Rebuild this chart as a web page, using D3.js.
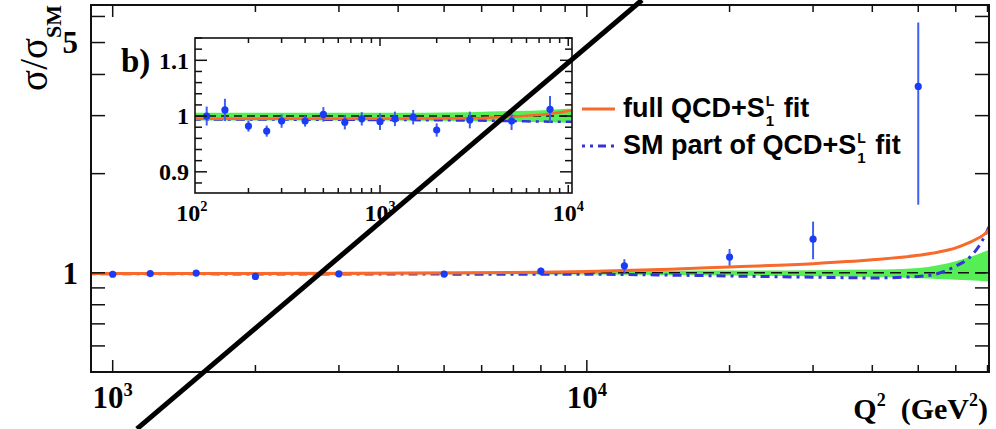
<!DOCTYPE html>
<html>
<head>
<meta charset="utf-8">
<script src="https://cdn.jsdelivr.net/npm/d3@7"></script>
<style>
body { margin: 0; background: #fff; }
</style>
</head>
<body>
<div id="chart"></div>
<script>
// measured points (H1 bins), ratio to SM and its error
const q2Points = [120, 150, 200, 250, 300, 400, 500, 650, 800, 1000, 1200, 1500, 2000, 3000, 5000, 8000, 12000, 20000, 30000, 50000];
const ratio    = [1.0, 1.011, 0.982, 0.973, 0.991, 0.991, 1.003, 0.989, 0.995, 0.99, 0.995, 0.998, 0.975, 0.993, 0.991, 1.012, 1.05, 1.116, 1.265, 3.68];
const ratioErr = [0.017, 0.02, 0.01, 0.01, 0.012, 0.01, 0.013, 0.013, 0.012, 0.015, 0.013, 0.013, 0.012, 0.015, 0.016, 0.024, 0.05, 0.065, 0.165, 2.07];

// fit curves and SM uncertainty band
const q2Fit     = [100, 1000, 3000, 5000, 8000, 10000, 15000, 20000, 30000, 40000, 50000, 55000, 60000, 64000, 67000, 69000, 70500];
const fullFit   = [0.995, 0.995, 0.996, 0.999, 1.004, 1.009, 1.025, 1.042, 1.066, 1.095, 1.13, 1.155, 1.19, 1.235, 1.275, 1.31, 1.35];
const smFit     = [0.994, 0.993, 0.992, 0.991, 0.99, 0.99, 0.984, 0.978, 0.97, 0.965, 0.975, 0.995, 1.048, 1.11, 1.2, 1.29, 1.38];
const bandLow   = [0.992, 0.992, 0.991, 0.99, 0.989, 0.988, 0.985, 0.982, 0.977, 0.972, 0.963, 0.958, 0.953, 0.949, 0.946, 0.943, 0.941];
const bandHigh  = [1.006, 1.006, 1.007, 1.009, 1.011, 1.013, 1.015, 1.016, 1.019, 1.023, 1.035, 1.055, 1.085, 1.115, 1.14, 1.16, 1.175];

// tick labels
const mainYLabels  = [1, 5];
const insetYLabels = [0.9, 1, 1.1];
const mainXLabels  = [3, 4];      // 10^n
const insetXLabels = [2, 3, 4];   // 10^n

// the slash drawn across the figure, in data units of the main frame
const slashQ2 = [1125, 13070];
const slashR  = [0.336, 6.73];

const color_full = "#f8692c";
const color_sm = "#3434d8";
const color_pt = "#1a3cf7";
const color_err = "#3f5ff0";
const color_band = "#55ee55";
const serif = "'Liberation Serif', 'Times New Roman', serif";
const sans = "'Liberation Sans', Arial, sans-serif";

const width = 996, height = 429;

const svg = d3.select("#chart")
   .append("svg")
   .attr("width", width)
   .attr("height", height);

const x = d3.scaleLog().domain([900, 70500]).range([91, 989]);
const y = d3.scaleLog().domain([0.5, 6.5]).range([372, 5]);
const xi = d3.scaleLog().domain([104, 10470]).range([195, 572]);
const yi = d3.scaleLinear().domain([0.862, 1.14]).range([193, 38]);

const defs = svg.append("defs");
function clip(id, xs, ys) {
	defs.append("clipPath").attr("id", id)
		.append("rect")
		.attr("x", xs.range()[0]).attr("y", ys.range()[1])
		.attr("width", xs.range()[1] - xs.range()[0])
		.attr("height", ys.range()[0] - ys.range()[1]);
}
clip("clipMain", x, y);
clip("clipInset", xi, yi);

const fitRows = q2Fit.map((q, i) => ({q: q, full: fullFit[i], sm: smFit[i], lo: bandLow[i], hi: bandHigh[i]}));
const pointRows = q2Points.map((q, i) => ({q: q, v: ratio[i], e: ratioErr[i]}));

function drawPanel(g, xs, ys, opt) {
	const inner = g.append("g").attr("clip-path", "url(#" + opt.clip + ")");

	inner.append("path")
		.datum(fitRows)
		.attr("fill", color_band)
		.attr("d", d3.area().curve(d3.curveMonotoneX)
			.x(d => xs(d.q)).y0(d => ys(d.lo)).y1(d => ys(d.hi)));

	inner.append("line")
		.attr("x1", xs.range()[0]).attr("x2", xs.range()[1])
		.attr("y1", ys(1)).attr("y2", ys(1))
		.attr("stroke", "#111").attr("stroke-width", 1.6)
		.attr("stroke-dasharray", opt.dash);

	inner.append("path")
		.datum(fitRows)
		.attr("fill", "none").attr("stroke", color_sm)
		.attr("stroke-width", opt.lw)
		.attr("stroke-dasharray", "9,5,3,5")
		.attr("d", d3.line().curve(d3.curveMonotoneX).x(d => xs(d.q)).y(d => ys(d.sm)));

	inner.append("path")
		.datum(fitRows)
		.attr("fill", "none").attr("stroke", color_full)
		.attr("stroke-width", opt.lw)
		.attr("d", d3.line().curve(d3.curveMonotoneX).x(d => xs(d.q)).y(d => ys(d.full)));

	const pts = pointRows.filter(d => d.q >= xs.domain()[0] && d.q <= xs.domain()[1]);
	inner.selectAll(".err").data(pts).enter().append("line")
		.attr("x1", d => xs(d.q)).attr("x2", d => xs(d.q))
		.attr("y1", d => ys(d.v - d.e)).attr("y2", d => ys(d.v + d.e))
		.attr("stroke", color_err).attr("stroke-width", 2);
	inner.selectAll(".pt").data(pts).enter().append("circle")
		.attr("cx", d => xs(d.q)).attr("cy", d => ys(d.v))
		.attr("r", 3.6).attr("fill", color_pt);

	// ticks
	const x0 = xs.range()[0], x1 = xs.range()[1], yb = ys.range()[0], yt = ys.range()[1];
	const tk = g.append("g").attr("stroke", "#111").attr("stroke-width", 1.5);
	xs.ticks().forEach(t => {
		const l = Math.log10(t);
		const len = Math.abs(l - Math.round(l)) < 1e-6 ? opt.xMajor : opt.xMinor;
		tk.append("line").attr("x1", xs(t)).attr("x2", xs(t)).attr("y1", yb).attr("y2", yb - len);
		tk.append("line").attr("x1", xs(t)).attr("x2", xs(t)).attr("y1", yt).attr("y2", yt + len);
	});
	opt.yTicks.forEach(t => {
		const len = opt.yLabels.some(m => Math.abs(m - t) < 1e-6) ? opt.yMajor : opt.yMinor;
		tk.append("line").attr("x1", x0).attr("x2", x0 + len).attr("y1", ys(t)).attr("y2", ys(t));
		tk.append("line").attr("x1", x1).attr("x2", x1 - len).attr("y1", ys(t)).attr("y2", ys(t));
	});

	g.append("rect")
		.attr("x", x0).attr("y", yt).attr("width", x1 - x0).attr("height", yb - yt)
		.attr("fill", "none").attr("stroke", "#111").attr("stroke-width", opt.frame);

	// labels
	opt.yLabels.forEach(t => {
		g.append("text")
			.attr("x", x0 - opt.yLabelGap).attr("y", ys(t)).attr("dy", "0.35em")
			.attr("text-anchor", "end")
			.style("font-family", serif).style("font-weight", "bold").style("font-size", opt.fs + "px")
			.text(t);
	});
	opt.xLabels.forEach(n => {
		const tx = g.append("text")
			.attr("x", xs(Math.pow(10, n))).attr("y", yb + opt.xLabelGap)
			.attr("text-anchor", "middle")
			.style("font-family", serif).style("font-weight", "bold").style("font-size", opt.fs + "px");
		tx.append("tspan").text("10");
		tx.append("tspan").attr("dy", -opt.fs * 0.4).style("font-size", (opt.fs * 0.6) + "px").text(n);
	});
}

// main frame
const gMain = svg.append("g");
drawPanel(gMain, x, y, {
	clip: "clipMain", dash: "11,6", lw: 3,
	xMajor: 12, xMinor: 7, yMajor: 14, yMinor: 14,
	yTicks: y.ticks(), yLabels: mainYLabels, xLabels: mainXLabels,
	frame: 2, fs: 31, yLabelGap: 13, xLabelGap: 36
});

// axis titles
const yTitle = svg.append("text")
	.attr("transform", "translate(47,5) rotate(-90)")
	.attr("text-anchor", "end")
	.style("font-family", serif).style("font-size", "39px");
yTitle.append("tspan").text("σ/σ");
yTitle.append("tspan").attr("dy", 14).style("font-size", "22px").style("font-weight", "bold").text("SM");

const xTitle = svg.append("text")
	.attr("x", 988).attr("y", 419)
	.attr("text-anchor", "end")
	.style("font-family", serif).style("font-weight", "bold").style("font-size", "30px");
xTitle.append("tspan").text("Q");
xTitle.append("tspan").attr("dy", -13).style("font-size", "18px").text("2");
xTitle.append("tspan").attr("dy", 13).text("\u00a0 (GeV");
xTitle.append("tspan").attr("dy", -13).style("font-size", "18px").text("2");
xTitle.append("tspan").attr("dy", 13).text(")");

// inset
const gInset = svg.append("g");
gInset.append("rect")
	.attr("x", xi.range()[0]).attr("y", yi.range()[1])
	.attr("width", xi.range()[1] - xi.range()[0]).attr("height", yi.range()[0] - yi.range()[1])
	.attr("fill", "#fff");
drawPanel(gInset, xi, yi, {
	clip: "clipInset", dash: "8,5", lw: 2.5,
	xMajor: 8, xMinor: 5, yMajor: 12, yMinor: 7,
	yTicks: yi.ticks(14), yLabels: insetYLabels, xLabels: insetXLabels,
	frame: 1.6, fs: 24, yLabelGap: 6, xLabelGap: 28
});
svg.append("text")
	.attr("x", 121).attr("y", 72)
	.style("font-family", serif).style("font-weight", "bold").style("font-size", "33px")
	.text("b)");

// legend
const legendItems = [
	{pre: "full QCD+S", post: "fit", color: color_full, dash: null, y: 109},
	{pre: "SM part of QCD+S", post: "fit", color: color_sm, dash: "3,5,3,5,8,5", y: 146}
];
legendItems.forEach(it => {
	svg.append("line")
		.attr("x1", 582).attr("x2", 615).attr("y1", it.y).attr("y2", it.y)
		.attr("stroke", it.color).attr("stroke-width", 3)
		.attr("stroke-dasharray", it.dash);
	const base = it.y + 8;
	const t1 = svg.append("text").attr("x", 623).attr("y", base)
		.style("font-family", sans).style("font-weight", "bold").style("font-size", "27px")
		.text(it.pre);
	const xs = 623 + t1.node().getComputedTextLength() + 1;
	svg.append("text").attr("x", xs).attr("y", base - 11)
		.style("font-family", sans).style("font-weight", "bold").style("font-size", "14px").text("L");
	svg.append("text").attr("x", xs).attr("y", base + 9)
		.style("font-family", sans).style("font-weight", "bold").style("font-size", "15px").text("1");
	svg.append("text").attr("x", xs + 18).attr("y", base)
		.style("font-family", sans).style("font-weight", "bold").style("font-size", "27px")
		.text(it.post);
});

// the slash across the figure
svg.append("line")
	.attr("x1", x(slashQ2[0])).attr("y1", y(slashR[0]))
	.attr("x2", x(slashQ2[1])).attr("y2", y(slashR[1]))
	.attr("stroke", "#000").attr("stroke-width", 5);
</script>
</body>
</html>
